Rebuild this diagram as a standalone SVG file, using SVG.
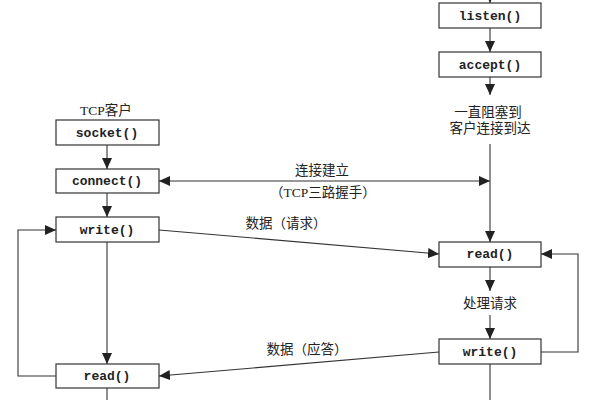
<svg xmlns="http://www.w3.org/2000/svg" width="600" height="400" viewBox="0 0 600 400">
<style>
.box{fill:#fff;stroke:#333;stroke-width:1.2}
.fn{font-family:"Liberation Mono","DejaVu Sans Mono",monospace;font-size:13px;font-weight:bold;fill:#222;text-anchor:middle;dominant-baseline:central}
.lb{font-family:"Liberation Serif","Noto Sans CJK SC",serif;font-size:13.5px;fill:#222;text-anchor:middle;dominant-baseline:central}
.ln{fill:none;stroke:#333;stroke-width:1.1}
</style>
<defs>
<marker id="ah" markerUnits="userSpaceOnUse" markerWidth="12" markerHeight="10" refX="11" refY="5" orient="auto">
<path d="M0,0 L11,5 L0,10 Z" fill="#222"/>
</marker>
</defs>
<rect width="600" height="400" fill="#fff"/>
<g id="connectors">
<line class="ln" x1="490" y1="-2" x2="490" y2="3" marker-end="url(#ah)"/>
<line class="ln" x1="490" y1="28" x2="490" y2="52" marker-end="url(#ah)"/>
<line class="ln" x1="490" y1="77" x2="490" y2="95" marker-end="url(#ah)"/>
<line class="ln" x1="490" y1="144" x2="490" y2="242" marker-end="url(#ah)"/>
<line class="ln" x1="107" y1="145" x2="107" y2="169" marker-end="url(#ah)"/>
<line class="ln" x1="107" y1="193" x2="107" y2="217" marker-end="url(#ah)"/>
<line class="ln" x1="107" y1="242" x2="107" y2="364" marker-end="url(#ah)"/>
<line class="ln" x1="107" y1="388" x2="107" y2="402"/>
<line class="ln" x1="300" y1="181" x2="159" y2="181" marker-end="url(#ah)"/>
<line class="ln" x1="300" y1="181" x2="490" y2="181" marker-end="url(#ah)"/>
<line class="ln" x1="159" y1="230" x2="439" y2="254" marker-end="url(#ah)"/>
<line class="ln" x1="439" y1="352" x2="159" y2="376" marker-end="url(#ah)"/>
<polyline class="ln" points="56,376 18,376 18,230 56,230" marker-end="url(#ah)"/>
<line class="ln" x1="490" y1="267" x2="490" y2="291" marker-end="url(#ah)"/>
<line class="ln" x1="490" y1="315" x2="490" y2="339" marker-end="url(#ah)"/>
<polyline class="ln" points="541,352 578,352 578,254 541,254" marker-end="url(#ah)"/>
<line class="ln" x1="490" y1="364" x2="490" y2="402"/>
</g>
<g id="tcp-client-label"><text class="lb" x="106" y="110">TCP客户</text></g>
<g id="socket"><rect class="box" x="56" y="120" width="103" height="25"/><text class="fn" x="107" y="133">socket()</text></g>
<g id="connect"><rect class="box" x="56" y="169" width="103" height="24"/><text class="fn" x="107" y="181">connect()</text></g>
<g id="client-write"><rect class="box" x="56" y="217" width="103" height="25"/><text class="fn" x="107" y="230">write()</text></g>
<g id="client-read"><rect class="box" x="56" y="364" width="103" height="24"/><text class="fn" x="107" y="376">read()</text></g>
<g id="listen"><rect class="box" x="439" y="3" width="102" height="25"/><text class="fn" x="490" y="16">listen()</text></g>
<g id="accept"><rect class="box" x="439" y="52" width="102" height="25"/><text class="fn" x="490" y="65">accept()</text></g>
<g id="block-label"><text class="lb" x="488" y="112">一直阻塞到</text><text class="lb" x="490" y="128">客户连接到达</text></g>
<g id="server-read"><rect class="box" x="439" y="242" width="102" height="25"/><text class="fn" x="490" y="254">read()</text></g>
<g id="process-label"><text class="lb" x="490" y="303">处理请求</text></g>
<g id="server-write"><rect class="box" x="439" y="339" width="102" height="25"/><text class="fn" x="490" y="352">write()</text></g>
<g id="conn-label"><text class="lb" x="322" y="170">连接建立</text><text class="lb" x="323" y="192">（TCP三路握手）</text></g>
<g id="req-label"><text class="lb" x="286" y="223">数据（请求）</text></g>
<g id="resp-label"><text class="lb" x="307" y="349">数据（应答）</text></g>
</svg>
